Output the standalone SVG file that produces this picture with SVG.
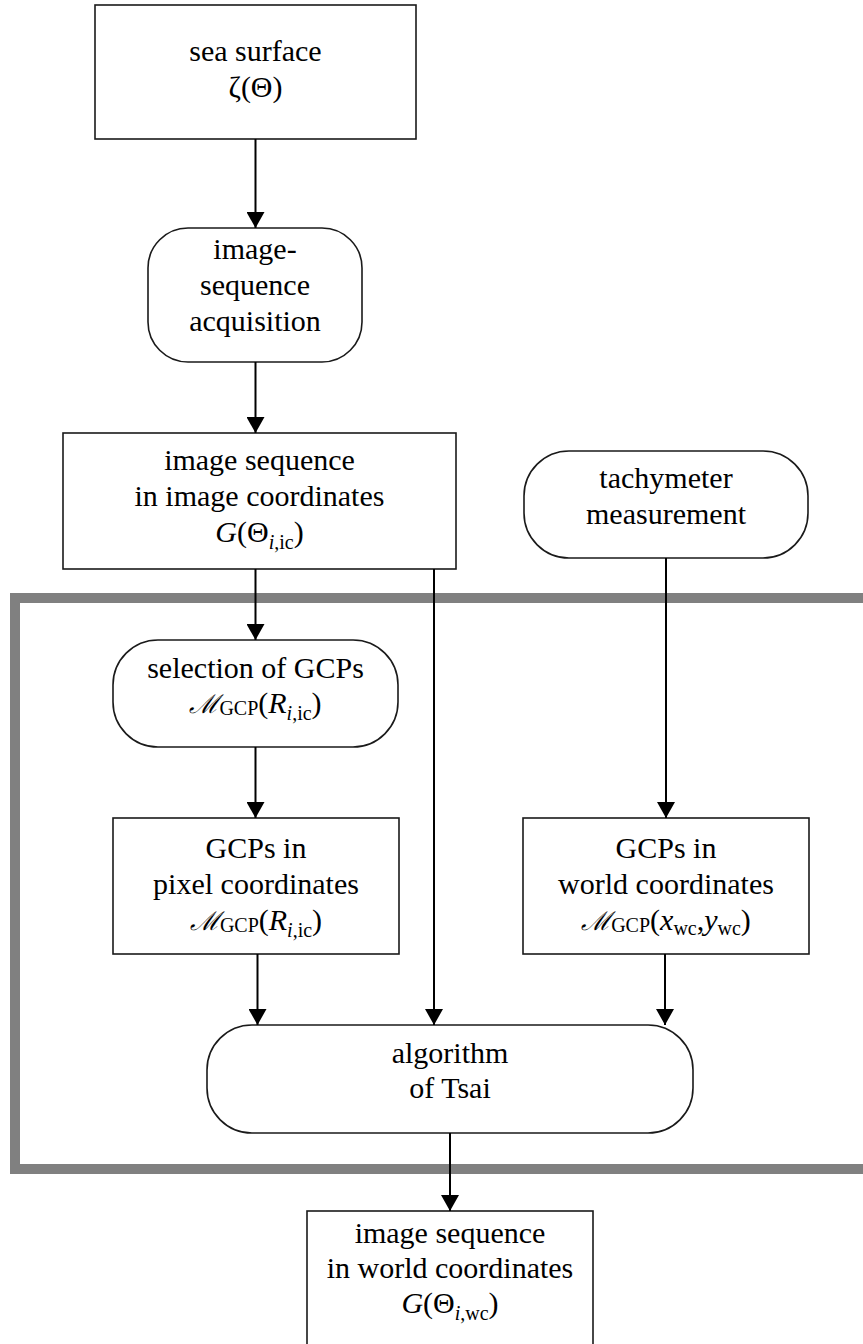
<svg xmlns="http://www.w3.org/2000/svg" width="863" height="1344" viewBox="0 0 863 1344">
<style>
.box{fill:#fff;stroke:#1a1a1a;stroke-width:1.6}
.t{font-family:'Liberation Serif','Times New Roman',serif;font-size:30px;fill:#000;text-anchor:middle}
.conn{stroke:#000;stroke-width:2;fill:none;marker-end:url(#arr)}
</style>
<defs>
<marker id="arr" markerUnits="userSpaceOnUse" markerWidth="16" markerHeight="18" refX="16" refY="9" orient="auto" viewBox="0 0 16 18">
<path d="M0,0 L16,9 L0,18 Z" fill="#000"/>
</marker>
</defs>
<rect width="863" height="1344" fill="#fff"/>
<g id="frame">
<rect x="15" y="598" width="900" height="571" fill="none" stroke="#808080" stroke-width="10"/>
</g>
<g id="sea-surface">
<rect class="box" x="95" y="5" width="321" height="134"/>
<text class="t" x="255.5" y="61"><tspan font-family="Liberation Serif">sea surface</tspan></text>
<text class="t" x="255.5" y="97"><tspan font-family="Liberation Serif">ζ(Θ)</tspan></text>
</g>
<g id="acquisition">
<rect class="box" x="148" y="228" width="214" height="134" rx="40" ry="40"/>
<text class="t" x="255" y="259"><tspan font-family="Liberation Serif">image-</tspan></text>
<text class="t" x="255" y="295"><tspan font-family="Liberation Serif">sequence</tspan></text>
<text class="t" x="255" y="331"><tspan font-family="Liberation Serif">acquisition</tspan></text>
</g>
<g id="image-seq-ic">
<rect class="box" x="63" y="433" width="393" height="136"/>
<text class="t" x="259.5" y="470"><tspan font-family="Liberation Serif">image sequence</tspan></text>
<text class="t" x="259.5" y="506"><tspan font-family="Liberation Serif">in image coordinates</tspan></text>
<text class="t" x="259.5" y="542"><tspan font-style="italic">G</tspan><tspan font-family="Liberation Serif">(Θ</tspan><tspan font-size="20" dy="7"><tspan font-style="italic">i</tspan><tspan>,ic</tspan></tspan><tspan dy="-7">)</tspan></text>
</g>
<g id="tachymeter">
<rect class="box" x="524" y="451" width="284" height="107" rx="45" ry="45"/>
<text class="t" x="666" y="488"><tspan font-family="Liberation Serif">tachymeter</tspan></text>
<text class="t" x="666" y="524"><tspan font-family="Liberation Serif">measurement</tspan></text>
</g>
<g id="selection">
<rect class="box" x="113" y="640" width="285" height="107" rx="45" ry="45"/>
<text class="t" x="255.5" y="678"><tspan font-family="Liberation Serif">selection of GCPs</tspan></text>
<text class="t" x="255.5" y="713"><tspan font-family="DejaVu Serif" font-style="italic" font-size="26">ℳ</tspan><tspan font-size="20" dy="2">GCP</tspan><tspan dy="-2">(</tspan><tspan font-style="italic">R</tspan><tspan font-size="20" dy="7"><tspan font-style="italic">i</tspan><tspan>,ic</tspan></tspan><tspan dy="-7">)</tspan></text>
</g>
<g id="gcp-pixel">
<rect class="box" x="113" y="818" width="286" height="136"/>
<text class="t" x="256" y="858"><tspan font-family="Liberation Serif">GCPs in</tspan></text>
<text class="t" x="256" y="894"><tspan font-family="Liberation Serif">pixel coordinates</tspan></text>
<text class="t" x="256" y="930"><tspan font-family="DejaVu Serif" font-style="italic" font-size="26">ℳ</tspan><tspan font-size="20" dy="2">GCP</tspan><tspan dy="-2">(</tspan><tspan font-style="italic">R</tspan><tspan font-size="20" dy="7"><tspan font-style="italic">i</tspan><tspan>,ic</tspan></tspan><tspan dy="-7">)</tspan></text>
</g>
<g id="gcp-world">
<rect class="box" x="523" y="818" width="286" height="136"/>
<text class="t" x="666" y="858"><tspan font-family="Liberation Serif">GCPs in</tspan></text>
<text class="t" x="666" y="894"><tspan font-family="Liberation Serif">world coordinates</tspan></text>
<text class="t" x="666" y="930"><tspan font-family="DejaVu Serif" font-style="italic" font-size="26">ℳ</tspan><tspan font-size="20" dy="2">GCP</tspan><tspan dy="-2">(</tspan><tspan font-style="italic">x</tspan><tspan font-size="20" dy="5">wc</tspan><tspan dy="-5">,</tspan><tspan font-style="italic">y</tspan><tspan font-size="20" dy="5">wc</tspan><tspan dy="-5">)</tspan></text>
</g>
<g id="tsai">
<rect class="box" x="207" y="1025" width="486" height="108" rx="45" ry="45"/>
<text class="t" x="450" y="1063"><tspan font-family="Liberation Serif">algorithm</tspan></text>
<text class="t" x="450" y="1098"><tspan font-family="Liberation Serif">of Tsai</tspan></text>
</g>
<g id="image-seq-wc">
<rect class="box" x="307" y="1211" width="286" height="150"/>
<text class="t" x="450" y="1243"><tspan font-family="Liberation Serif">image sequence</tspan></text>
<text class="t" x="450" y="1278"><tspan font-family="Liberation Serif">in world coordinates</tspan></text>
<text class="t" x="450" y="1313"><tspan font-style="italic">G</tspan><tspan font-family="Liberation Serif">(Θ</tspan><tspan font-size="20" dy="7"><tspan font-style="italic">i</tspan><tspan>,wc</tspan></tspan><tspan dy="-7">)</tspan></text>
</g>
<g id="connectors">
<line class="conn" x1="255.5" y1="139" x2="255.5" y2="228"/>
<line class="conn" x1="255.5" y1="362" x2="255.5" y2="433"/>
<line class="conn" x1="255.5" y1="569" x2="255.5" y2="640"/>
<line class="conn" x1="434" y1="569" x2="434" y2="1025"/>
<line class="conn" x1="666" y1="558" x2="666" y2="818"/>
<line class="conn" x1="255.5" y1="747" x2="255.5" y2="818"/>
<line class="conn" x1="257.5" y1="954" x2="257.5" y2="1025"/>
<line class="conn" x1="665" y1="954" x2="665" y2="1025"/>
<line class="conn" x1="450" y1="1133" x2="450" y2="1211"/>
</g>
</svg>
